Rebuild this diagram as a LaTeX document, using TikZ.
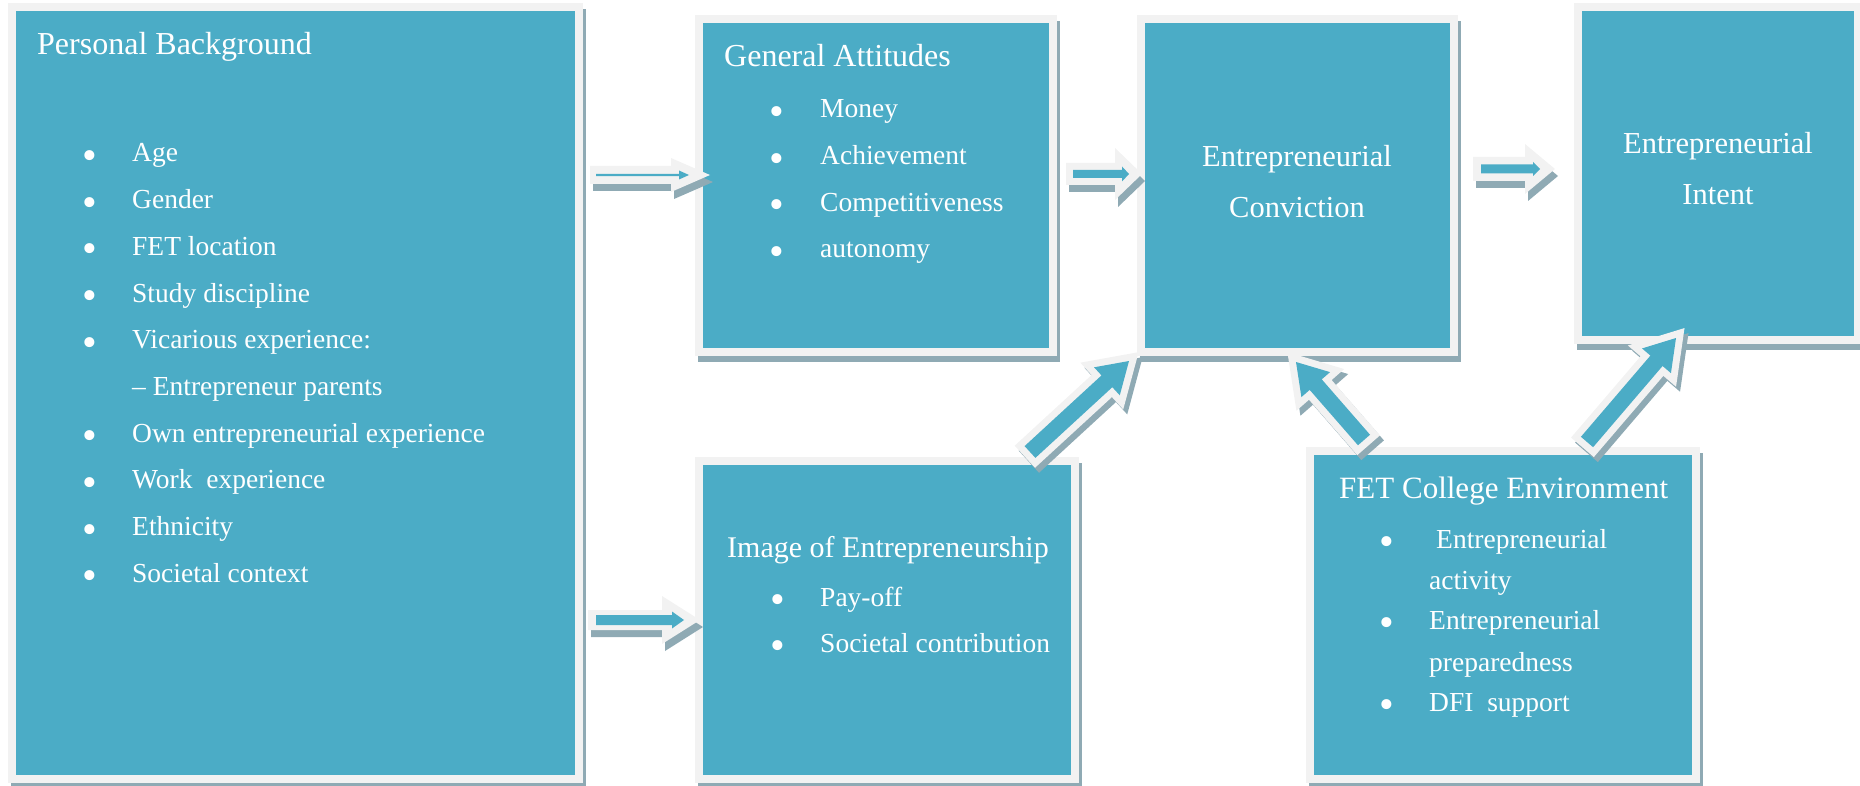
\documentclass[tikz,border=0pt]{standalone}
\usepackage{fontspec}
\setmainfont{Liberation Serif}
\usetikzlibrary{calc}

\definecolor{boxteal}{RGB}{75,172,198}
\definecolor{rimgray}{RGB}{242,242,242}
\definecolor{shadowc}{RGB}{143,170,180}

% block arrow: style, tail, tip, body half-width, head half-width, head length
\newcommand{\blockarrow}[6]{%
  \coordinate (ba-n) at ($(#3)!#6!(#2)$);
  \path[#1] ($(#2)!#4!90:(#3)$) -- ($(ba-n)!#4!90:(#3)$) -- ($(ba-n)!#5!90:(#3)$) -- (#3)
     -- ($(ba-n)!#5!-90:(#3)$) -- ($(ba-n)!#4!-90:(#3)$) -- ($(#2)!#4!-90:(#3)$) -- cycle;
}

\tikzset{
  panel/.style={rectangle, fill=boxteal, draw=rimgray, line width=8pt, outer sep=0pt, inner sep=0pt,
    anchor=north west,
    preaction={fill=shadowc, draw=shadowc, line width=8pt, transform canvas={xshift=3pt, yshift=-6pt}}},
  title/.style={text=white, inner sep=0pt, anchor=base west, font=\fontsize{31}{36}\selectfont},
  item/.style={text=white, inner sep=0pt, anchor=base west, font=\fontsize{27.5}{32}\selectfont},
  dot/.style={text=white, inner sep=0pt, anchor=base, font=\fontsize{42}{42}\selectfont, yshift=-7.5pt},
  flatarrow/.style={fill=rimgray, preaction={fill=shadowc, transform canvas={xshift=3pt, yshift=-7pt}}},
  innerarrow/.style={fill=boxteal},
  tiltarrow/.style={fill=boxteal, line join=miter,
    preaction={fill=shadowc, draw=shadowc, line width=14pt, line join=miter, transform canvas={xshift=4pt, yshift=-5pt}},
    preaction={draw=rimgray, line width=14pt, line join=miter}},
}

\begin{document}
\begin{tikzpicture}[x=1pt, y=-1pt]
\useasboundingbox (0,0) rectangle (1860,786);

% ---------- panels ----------
\node[panel, minimum width=567pt, minimum height=772pt] (pb) at (12,7) {};
\node[panel, minimum width=354pt, minimum height=333pt] (ga) at (699,19) {};
\node[panel, minimum width=313pt, minimum height=333pt] (ec) at (1141,19) {};
\node[panel, minimum width=280pt, minimum height=333pt] (ei) at (1578,7) {};
\node[panel, minimum width=376pt, minimum height=318pt] (ie) at (699,461) {};
\node[panel, minimum width=386pt, minimum height=328pt] (fet) at (1310,451) {};

% ---------- Personal Background ----------
\node[title, font=\fontsize{32}{38}\selectfont] (pb-title) at (37,55) {Personal Background};
\node[dot] (pb-b1) at (90,162) {\textbullet};   \node[item] (pb-i1) at (132,162) {Age};
\node[dot] (pb-b2) at (90,208.7) {\textbullet}; \node[item] (pb-i2) at (132,208.7) {Gender};
\node[dot] (pb-b3) at (90,255.4) {\textbullet}; \node[item] (pb-i3) at (132,255.4) {FET location};
\node[dot] (pb-b4) at (90,302.1) {\textbullet}; \node[item] (pb-i4) at (132,302.1) {Study discipline};
\node[dot] (pb-b5) at (90,348.8) {\textbullet}; \node[item] (pb-i5) at (132,348.8) {Vicarious experience:};
\node[item] (pb-i6) at (132,395.5) {– Entrepreneur parents};
\node[dot] (pb-b7) at (90,442.2) {\textbullet}; \node[item] (pb-i7) at (132,442.2) {Own entrepreneurial experience};
\node[dot] (pb-b8) at (90,488.9) {\textbullet}; \node[item] (pb-i8) at (132,488.9) {Work\ \ experience};
\node[dot] (pb-b9) at (90,535.6) {\textbullet}; \node[item] (pb-i9) at (132,535.6) {Ethnicity};
\node[dot] (pb-b10) at (90,582.3) {\textbullet}; \node[item] (pb-i10) at (132,582.3) {Societal context};

% ---------- General Attitudes ----------
\node[title, font=\fontsize{32}{38}\selectfont] (ga-title) at (724,67) {General Attitudes};
\node[dot] (ga-b1) at (777,118) {\textbullet};   \node[item] (ga-i1) at (820,118) {Money};
\node[dot] (ga-b2) at (777,164.7) {\textbullet}; \node[item] (ga-i2) at (820,164.7) {Achievement};
\node[dot] (ga-b3) at (777,211.4) {\textbullet}; \node[item] (ga-i3) at (820,211.4) {Competitiveness};
\node[dot] (ga-b4) at (777,258) {\textbullet};   \node[item] (ga-i4) at (820,258) {autonomy};

% ---------- Entrepreneurial Conviction / Intent ----------
\node[title, anchor=base, font=\fontsize{30.5}{36}\selectfont] (ec-l1) at (1297,167) {Entrepreneurial};
\node[title, anchor=base, font=\fontsize{30.5}{36}\selectfont] (ec-l2) at (1297,218) {Conviction};
\node[title, anchor=base, font=\fontsize{30.5}{36}\selectfont] (ei-l1) at (1718,154) {Entrepreneurial};
\node[title, anchor=base, font=\fontsize{30.5}{36}\selectfont] (ei-l2) at (1718,205) {Intent};

% ---------- Image of Entrepreneurship ----------
\node[title, font=\fontsize{30}{35}\selectfont] (ie-title) at (727,557) {Image of Entrepreneurship};
\node[dot] (ie-b1) at (778,606) {\textbullet}; \node[item] (ie-i1) at (820,606) {Pay-off};
\node[dot] (ie-b2) at (778,652) {\textbullet}; \node[item] (ie-i2) at (820,652) {Societal contribution};

% ---------- FET College Environment ----------
\node[title] (fet-title) at (1339,498) {FET College Environment};
\node[dot] (fet-b1) at (1387,548) {\textbullet}; \node[item] (fet-i1) at (1436,548) {Entrepreneurial};
\node[item] (fet-i1b) at (1429,589) {activity};
\node[dot] (fet-b2) at (1387,629) {\textbullet}; \node[item] (fet-i2) at (1429,629) {Entrepreneurial};
\node[item] (fet-i2b) at (1429,671) {preparedness};
\node[dot] (fet-b3) at (1387,711) {\textbullet}; \node[item] (fet-i3) at (1429,711) {DFI\ \ support};

% ---------- horizontal arrows ----------
\coordinate (pb-ga-tail) at (590,175);  \coordinate (pb-ga-tip) at (710,175);
\blockarrow{flatarrow}{pb-ga-tail}{pb-ga-tip}{9pt}{17pt}{39pt}
\coordinate (pb-ga-in-tail) at (596,175); \coordinate (pb-ga-in-tip) at (689,175);
\blockarrow{innerarrow}{pb-ga-in-tail}{pb-ga-in-tip}{1.2pt}{4.5pt}{10pt}

\coordinate (pb-ie-tail) at (588,620);  \coordinate (pb-ie-tip) at (700,620);
\blockarrow{flatarrow}{pb-ie-tail}{pb-ie-tip}{10pt}{24pt}{38pt}
\coordinate (pb-ie-in-tail) at (596,620); \coordinate (pb-ie-in-tip) at (684,620);
\blockarrow{innerarrow}{pb-ie-in-tail}{pb-ie-in-tip}{5pt}{8.5pt}{12pt}

\coordinate (ga-ec-tail) at (1066,174); \coordinate (ga-ec-tip) at (1142,174);
\blockarrow{flatarrow}{ga-ec-tail}{ga-ec-tip}{11pt}{26pt}{27pt}
\coordinate (ga-ec-in-tail) at (1073,174); \coordinate (ga-ec-in-tip) at (1129,174);
\blockarrow{innerarrow}{ga-ec-in-tail}{ga-ec-in-tip}{4pt}{7.5pt}{7pt}

\coordinate (ec-ei-tail) at (1473,169); \coordinate (ec-ei-tip) at (1555,169);
\blockarrow{flatarrow}{ec-ei-tail}{ec-ei-tip}{12pt}{25pt}{30pt}
\coordinate (ec-ei-in-tail) at (1481,169); \coordinate (ec-ei-in-tip) at (1540,169);
\blockarrow{innerarrow}{ec-ei-in-tail}{ec-ei-in-tip}{4.5pt}{7pt}{7pt}

% ---------- slanted arrows ----------
\coordinate (ie-ec-tail) at (1030,452); \coordinate (ie-ec-tip) at (1129,361);
\blockarrow{tiltarrow}{ie-ec-tail}{ie-ec-tip}{8pt}{19pt}{30pt}
\coordinate (fet-ec-tail) at (1364,440); \coordinate (fet-ec-tip) at (1296,362);
\blockarrow{tiltarrow}{fet-ec-tail}{fet-ec-tip}{8pt}{19pt}{30pt}
\coordinate (fet-ei-tail) at (1587,442); \coordinate (fet-ei-tip) at (1676,338);
\blockarrow{tiltarrow}{fet-ei-tail}{fet-ei-tip}{8pt}{19pt}{30pt}

\end{tikzpicture}
\end{document}
